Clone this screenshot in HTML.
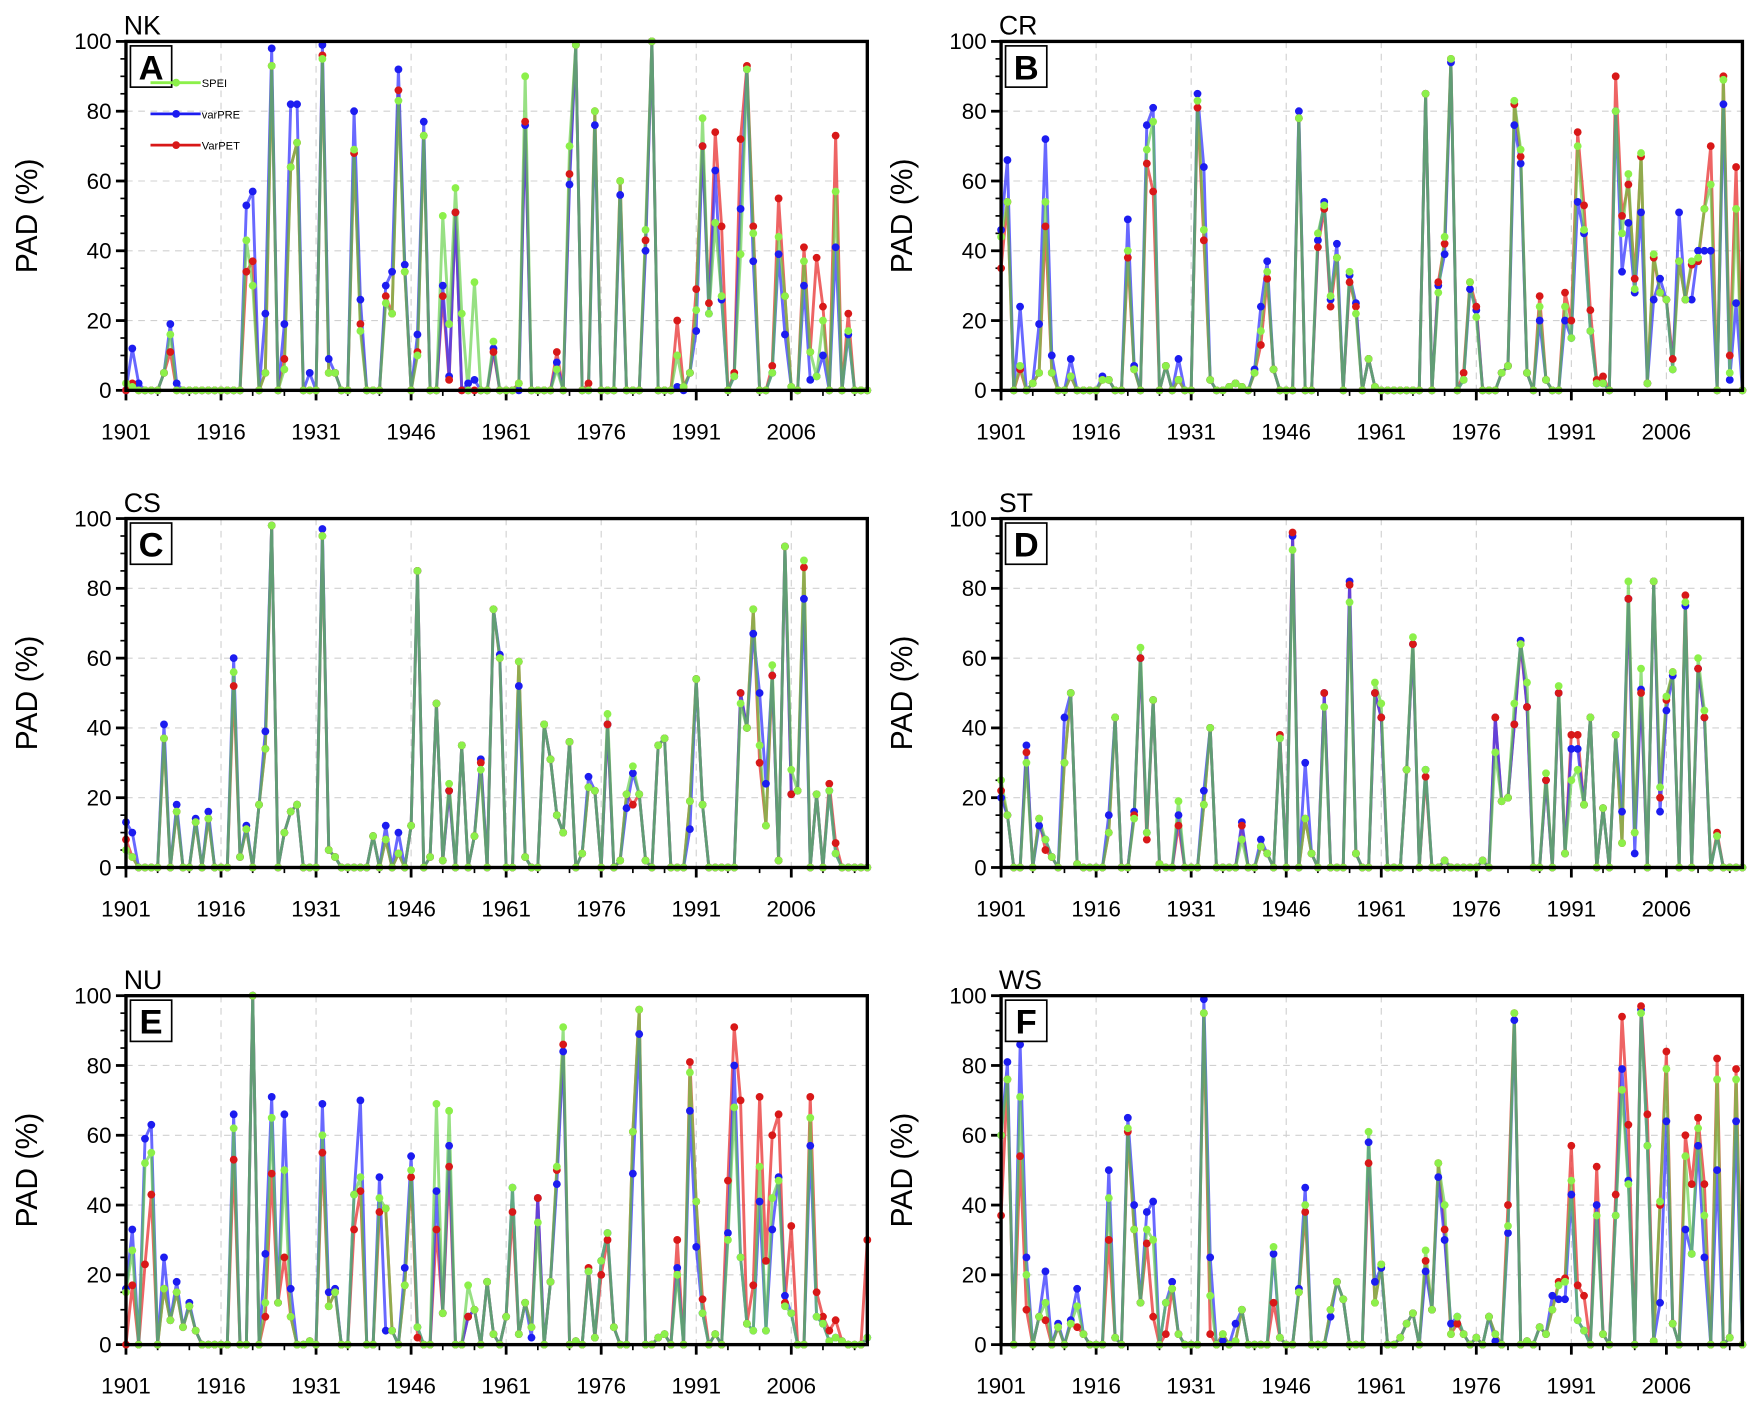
<!DOCTYPE html>
<html><head><meta charset="utf-8"><style>
html,body{margin:0;padding:0;background:#fff;}
svg{display:block;font-family:"Liberation Sans",sans-serif;}
</style></head><body>
<svg id="fig" xmlns="http://www.w3.org/2000/svg" width="1748" height="1405" viewBox="0 0 1568 1260"></svg>
<script>
const years=[];for(let y=1901;y<=2018;y++)years.push(y);
const xTickLabels=[1901,1916,1931,1946,1961,1976,1991,2006];
const yTickLabels=[0,20,40,60,80,100];
const panelNames=["NK","CR","CS","ST","NU","WS"];
const panelLetters=["A","B","C","D","E","F"];
const seriesNames=["SPEI","varPRE","VarPET"];

const A_SPEI=[2,1,0,0,0,0,5,16,0,0, 0,0,0,0,0,0,0,0,0,43, 30,0,5,93,0,6,64,71,0,0, 0,95,5,5,0,0,69,17,0,0, 0,25,22,83,34,0,10,73,0,0, 50,19,58,22,0,31,0,0,14,0, 0,0,2,90,0,0,0,0,6,0, 70,99,0,0,80,0,0,0,60,0, 0,0,46,100,0,0,0,10,1,5, 23,78,22,48,27,0,4,39,92,45, 0,0,5,44,27,1,0,37,11,4, 20,0,57,0,17,0,0,0];
const A_PRE=[0,12,2,0,0,0,5,19,2,0, 0,0,0,0,0,0,0,0,0,53, 57,0,22,98,0,19,82,82,0,5, 0,99,9,5,0,0,80,26,0,0, 0,30,34,92,36,0,16,77,0,0, 30,4,51,0,2,3,0,0,12,0, 0,0,0,76,0,0,0,0,8,0, 59,99,0,0,76,0,0,0,56,0, 0,0,40,100,0,0,0,1,0,5, 17,70,22,63,26,0,4,52,92,37, 0,0,5,39,16,1,0,30,3,4, 10,0,41,0,16,0,0,0];
const A_PET=[0,2,0,0,0,0,5,11,0,0, 0,0,0,0,0,0,0,0,0,34, 37,0,5,93,0,9,64,71,0,0, 0,96,5,5,0,0,68,19,0,0, 0,27,22,86,34,0,11,73,0,0, 27,3,51,0,0,0,0,0,11,0, 0,0,2,77,0,0,0,0,11,0, 62,99,0,2,80,0,0,0,60,0, 0,0,43,100,0,0,0,20,1,5, 29,70,25,74,47,0,5,72,93,47, 0,0,7,55,27,1,0,41,11,38, 24,0,73,0,22,0,0,0];

const B_SPEI=[44,54,0,7,0,2,5,54,5,0, 0,4,0,0,0,0,3,3,0,0, 40,6,0,69,77,0,7,0,3,0, 0,83,46,3,0,0,1,2,1,0, 5,17,34,6,0,0,0,78,0,0, 45,53,27,38,0,34,22,0,9,1, 0,0,0,0,0,0,0,85,0,28, 44,95,0,3,31,21,0,0,0,5, 7,83,69,5,0,24,3,0,0,24, 15,70,46,17,2,2,0,80,45,62, 29,68,2,39,28,26,6,37,26,37, 38,52,59,0,89,5,52,0];
const B_PRE=[46,66,0,24,0,2,19,72,10,0, 0,9,0,0,0,0,4,3,0,0, 49,7,0,76,81,0,7,0,9,0, 0,85,64,3,0,0,1,2,1,0, 6,24,37,6,0,0,0,80,0,0, 43,54,26,42,0,33,25,0,9,1, 0,0,0,0,0,0,0,85,0,30, 39,94,0,3,29,23,0,0,0,5, 7,76,65,5,0,20,3,0,0,20, 15,54,45,17,2,2,0,80,34,48, 28,51,2,26,32,26,6,51,26,26, 40,40,40,0,82,3,25,0];
const B_PET=[35,54,0,6,0,2,5,47,5,0, 0,4,0,0,0,0,3,3,0,0, 38,6,0,65,57,0,7,0,3,0, 0,81,43,3,0,0,1,2,1,0, 5,13,32,6,0,0,0,78,0,0, 41,52,24,38,0,31,24,0,9,1, 0,0,0,0,0,0,0,85,0,31, 42,95,0,5,31,24,0,0,0,5, 7,82,67,5,0,27,3,0,0,28, 20,74,53,23,3,4,0,90,50,59, 32,67,2,38,28,26,9,37,26,36, 37,52,70,0,90,10,64,0];

const C_SPEI=[5,3,0,0,0,0,37,0,16,0, 0,13,0,14,0,0,0,56,3,11, 0,18,34,98,0,10,16,18,0,0, 0,95,5,3,0,0,0,0,0,9, 0,8,0,4,0,12,85,0,3,47, 2,24,0,35,0,9,28,0,74,60, 0,0,59,3,0,0,41,31,15,10, 36,0,4,23,22,0,44,0,2,21, 29,21,2,0,35,37,0,0,0,19, 54,18,0,0,0,0,0,47,40,74, 35,12,58,2,92,28,22,88,0,21, 0,22,4,0,0,0,0,0];
const C_PRE=[13,10,0,0,0,0,41,0,18,0, 0,14,0,16,0,0,0,60,3,12, 0,18,39,98,0,10,16,18,0,0, 0,97,5,3,0,0,0,0,0,9, 0,12,0,10,0,12,85,0,3,47, 2,22,0,35,0,9,31,0,74,61, 0,0,52,3,0,0,41,31,15,10, 36,0,4,26,22,0,41,0,2,17, 27,21,2,0,35,37,0,0,0,11, 54,18,0,0,0,0,0,50,40,67, 50,24,55,2,92,21,22,77,0,21, 0,22,4,0,0,0,0,0];
const C_PET=[8,3,0,0,0,0,37,0,16,0, 0,13,0,14,0,0,0,52,3,11, 0,18,34,98,0,10,16,18,0,0, 0,95,5,3,0,0,0,0,0,9, 0,8,0,4,0,12,85,0,3,47, 2,22,0,35,0,9,30,0,74,60, 0,0,59,3,0,0,41,31,15,10, 36,0,4,23,22,0,41,0,2,21, 18,21,2,0,35,37,0,0,0,19, 54,18,0,0,0,0,0,50,40,74, 30,12,55,2,92,21,22,86,0,21, 0,24,7,0,0,0,0,0];

const D_SPEI=[25,15,0,0,30,0,14,8,3,0, 30,50,1,0,0,0,0,10,43,0, 0,14,63,10,48,1,0,0,19,0, 0,0,18,40,0,0,0,0,8,0, 0,6,4,0,37,0,91,0,14,4, 0,46,0,0,0,76,4,0,0,53, 47,0,0,0,28,66,0,28,0,0, 2,0,0,0,0,0,2,0,33,19, 20,47,64,53,0,0,27,0,52,4, 25,28,18,43,0,17,0,38,7,82, 10,57,0,82,23,49,56,0,76,0, 60,45,0,9,0,0,0,0];
const D_PRE=[20,15,0,0,35,0,12,8,3,0, 43,50,1,0,0,0,0,15,43,0, 0,16,60,10,48,1,0,0,15,0, 0,0,22,40,0,0,0,0,13,0, 0,8,4,0,37,0,95,0,30,4, 0,50,0,0,0,82,4,0,0,50, 43,0,0,0,28,64,0,28,0,0, 2,0,0,0,0,0,2,0,43,19, 20,41,65,46,0,0,25,0,50,4, 34,34,18,43,0,17,0,38,16,77, 4,51,0,82,16,45,55,0,75,0, 57,43,0,9,0,0,0,0];
const D_PET=[22,15,0,0,33,0,14,5,3,0, 30,50,1,0,0,0,0,10,43,0, 0,15,60,8,48,1,0,0,12,0, 0,0,18,40,0,0,0,0,12,0, 0,6,4,0,38,0,96,0,14,4, 0,50,0,0,0,81,4,0,0,50, 43,0,0,0,28,64,0,26,0,0, 2,0,0,0,0,0,2,0,43,19, 20,41,64,46,0,0,25,0,50,4, 38,38,18,43,0,17,0,38,7,77, 10,50,0,82,20,48,56,0,78,0, 57,43,0,10,0,0,0,0];

const E_SPEI=[15,27,0,52,55,0,16,7,15,5, 11,4,0,0,0,0,0,62,0,0, 100,0,12,65,12,50,8,0,0,1, 0,60,11,15,0,0,43,48,0,0, 42,39,4,0,17,50,5,0,0,69, 9,67,0,0,17,10,0,18,3,0, 8,45,3,12,5,35,0,18,51,91, 0,1,0,21,2,24,32,5,0,0, 61,96,0,0,2,3,0,20,0,78, 41,9,0,3,0,30,68,25,6,4, 51,4,42,47,11,9,0,0,65,8, 6,1,2,1,0,0,0,2];
const E_PRE=[16,33,0,59,63,0,25,7,18,5, 12,4,0,0,0,0,0,66,0,0, 100,0,26,71,12,66,16,0,0,1, 0,69,15,16,0,0,43,70,0,0, 48,4,4,0,22,54,5,0,0,44, 9,57,0,0,8,10,0,18,3,0, 8,45,3,12,2,42,0,18,46,84, 0,1,0,21,2,24,32,5,0,0, 49,89,0,0,2,3,0,22,0,67, 28,9,0,3,0,32,80,25,6,4, 41,4,33,48,14,9,0,0,57,8, 6,1,2,1,0,0,0,2];
const E_PET=[0,17,0,23,43,0,16,7,15,5, 11,4,0,0,0,0,0,53,0,0, 100,0,8,49,12,25,8,0,0,1, 0,55,11,15,0,0,33,44,0,0, 38,39,4,0,17,48,2,0,0,33, 9,51,0,0,8,10,0,18,3,0, 8,38,3,12,5,42,0,18,50,86, 0,1,0,22,2,20,30,5,0,0, 61,96,0,0,2,3,0,30,0,81, 41,13,0,3,0,47,91,70,6,17, 71,24,60,66,12,34,0,0,71,15, 8,4,7,1,0,0,0,30];

const F_SPEI=[60,76,0,71,20,0,8,12,0,5, 0,6,11,3,0,0,0,42,2,0, 62,33,12,33,30,0,12,16,3,0, 0,0,95,14,0,3,0,1,10,0, 0,0,0,28,2,0,0,15,40,0, 0,0,10,18,13,0,0,0,61,12, 23,0,0,2,6,9,0,27,10,52, 40,3,8,3,0,2,0,8,3,0, 34,95,0,1,0,5,3,10,17,18, 47,7,4,0,37,3,0,37,73,46, 0,95,57,1,41,79,6,0,54,26, 62,37,0,76,0,2,76,0];
const F_PRE=[60,81,0,86,25,0,8,21,0,6, 0,7,16,3,0,0,0,50,2,0, 65,40,12,38,41,0,12,18,3,0, 0,0,99,25,0,1,0,6,10,0, 0,0,0,26,2,0,0,16,45,0, 0,0,8,18,13,0,0,0,58,18, 22,0,0,2,6,9,0,21,10,48, 30,6,8,3,0,2,0,8,1,0, 32,93,0,1,0,5,3,14,13,13, 43,7,4,0,40,3,0,37,79,47, 0,96,57,1,12,64,6,0,33,26, 57,25,0,50,0,2,64,0];
const F_PET=[37,76,0,54,10,0,8,7,0,5, 0,6,5,3,0,0,0,30,2,0, 61,33,12,29,8,0,3,16,3,0, 0,0,95,3,0,3,0,1,10,0, 0,0,0,12,2,0,0,15,38,0, 0,0,10,18,13,0,0,0,52,12, 23,0,0,2,6,9,0,24,10,52, 33,3,6,3,0,2,0,8,3,0, 40,95,0,1,0,5,3,10,18,19, 57,17,14,0,51,3,0,43,94,63, 0,97,66,1,40,84,6,0,60,46, 65,46,0,82,0,2,79,0];

const panels=[[A_SPEI,A_PRE,A_PET],[B_SPEI,B_PRE,B_PET],[C_SPEI,C_PRE,C_PET],[D_SPEI,D_PRE,D_PET],[E_SPEI,E_PRE,E_PET],[F_SPEI,F_PRE,F_PET]];

const NS="http://www.w3.org/2000/svg";
const svg=document.getElementById("fig");
function mk(tag,attrs,parent){const e=document.createElementNS(NS,tag);for(const k in attrs)e.setAttribute(k,attrs[k]);(parent||svg).appendChild(e);return e;}
const lefts=[113,898],tops=[37,465,893],W=665,H=313;
const Y0=1901,Y1=2018;
const lineCols=["#60d040","#3535ff","#e83030"];
const dotCols=["#8cf04a","#1c1cf0","#d81818"];

panels.forEach((ser,p)=>{
  const L=lefts[p%2],T=tops[Math.floor(p/2)];
  const xs=yr=>L+(yr-Y0)*W/(Y1-Y0);
  const ys=v=>T+H-v*H/100;
  const g=mk("g",{});
  
  
  yTickLabels.forEach(v=>{if(v>0&&v<100){const l=mk("line",{x1:L,x2:L+W,y1:ys(v),y2:ys(v),stroke:"#d0d0d0","stroke-width":1,"stroke-dasharray":"6,5"},g);
    
    }});
  xTickLabels.forEach(yr=>{if(yr>Y0){const l=mk("line",{x1:xs(yr),x2:xs(yr),y1:T,y2:T+H,stroke:"#d0d0d0","stroke-width":1,"stroke-dasharray":"6,5"},g);
    
    }});
  for(let v=0;v<=100;v+=5){const major=v%20===0;const t=mk("line",{x1:L-(major?9:5),x2:L,y1:ys(v),y2:ys(v),stroke:"#000","stroke-width":major?2.5:1.5},g);
    
    }
  yTickLabels.forEach(v=>{const t=mk("text",{x:L-13,y:ys(v)+7,"font-size":20,"text-anchor":"end"},g);t.textContent=v;
    
    });
  for(let yr=1901;yr<=2016;yr+=5){const major=(yr-1901)%15===0;const t=mk("line",{x1:xs(yr),x2:xs(yr),y1:T+H,y2:T+H+(major?9:5),stroke:"#000","stroke-width":major?2.5:1.5},g);
    
    }
  xTickLabels.forEach(yr=>{const t=mk("text",{x:xs(yr),y:T+H+44,"font-size":20,"text-anchor":"middle"},g);t.textContent=yr;
    
    });
  const at=mk("text",{x:0,y:0,"font-size":27,"text-anchor":"middle",transform:`translate(${L-80},${T+H/2}) rotate(-90)`},g);at.textContent="PAD (%)";
  
  
  const pt=mk("text",{x:L-2,y:T-6,"font-size":24},g);pt.textContent=panelNames[p];
  
  
  [2,1,0].forEach(s=>{
    const pts=ser[s].map((v,i)=>xs(years[i]).toFixed(1)+","+ys(v).toFixed(1)).join(" ");
    const pl=mk("polyline",{points:pts,fill:"none",stroke:lineCols[s],"stroke-width":2.6,"stroke-opacity":s===0?0.65:0.75,"stroke-linejoin":"round"},g);
    
    
  });
  [1,2,0].forEach(s=>{
    ser[s].forEach((v,i)=>{
      const c=mk("circle",{cx:xs(years[i]),cy:ys(v),r:3.5,fill:dotCols[s]},g);
      
      
    });
  });
  const fr=mk("rect",{x:L,y:T,width:W,height:H,fill:"none",stroke:"#000","stroke-width":3},g);
  
  
  const lb=mk("rect",{x:L+4,y:T+4,width:37,height:37,fill:"#fff",stroke:"#000","stroke-width":1.5},g);
  
  
  const lt=mk("text",{x:L+22.5,y:T+34,"font-size":31,"font-weight":"bold","text-anchor":"middle"},g);lt.textContent=panelLetters[p];
  
  
  if(p===0){
    seriesNames.forEach((nm,s)=>{
      const yy=T+37+s*28;
      const ll=mk("line",{x1:L+22,x2:L+67,y1:yy,y2:yy,stroke:dotCols[s],"stroke-width":2.5},g);
      
      
      const lc=mk("circle",{cx:L+45,cy:yy,r:3.5,fill:dotCols[s]},g);
      
      
      const tx=mk("text",{x:L+68,y:yy+4,"font-size":10},g);tx.textContent=nm;
      
      
    });
  }
});
</script>
</body></html>
